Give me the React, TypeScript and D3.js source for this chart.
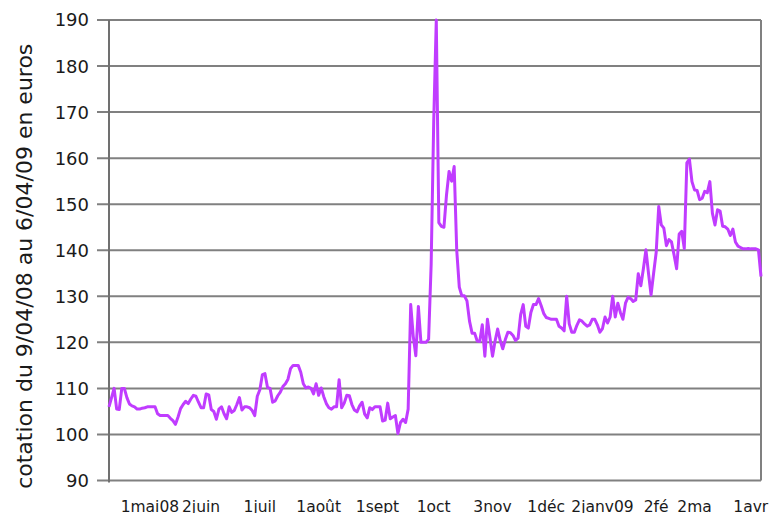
import React from "react";
import * as d3 from "d3";

const WIDTH = 770;
const HEIGHT = 513;
const MARGIN = { top: 20, right: 9, bottom: 32.5, left: 109 };

// cotation quotidienne (séances du 9/04/08 au 6/04/09), en euros
const prices = [
  106, 108, 110, 105.5, 105.4, 110, 110, 108, 106.6, 106.2,
  106, 105.5, 105.5, 105.7, 105.8, 106, 106, 106, 106, 104.5,
  104.1, 104.1, 104.1, 104.1, 103.5, 103, 102.2, 103.8, 105.6, 106.5,
  107.2, 106.7, 107.7, 108.5, 108.3, 107, 105.8, 105.8, 108.8, 108.6,
  105.4, 105, 103.3, 105.5, 106, 104.5, 103.4, 106, 104.8, 105.2,
  106.5, 108, 105.3, 106, 106, 105.8, 105.2, 104.1, 108.3, 109.7,
  113, 113.2, 110.2, 110, 107, 107.3, 108.4, 109.2, 110.4, 111,
  112, 114.3, 115, 115, 115, 113.5, 111, 110.1, 110.3, 110,
  108.8, 111, 108.5, 110.1, 108.2, 106.7, 105.8, 105.5, 106, 106,
  111.9, 105.8, 106.8, 108.5, 108.4, 106.5, 105.3, 104.9, 106.2, 107,
  104.4, 103.6, 105.8, 105.4, 106, 106, 106, 102.9, 103.1, 106.8,
  103.4, 103.8, 104.1, 100.2, 102.6, 103.3, 102.6, 105.5, 128.2, 121.3,
  117.1, 127.8, 120, 120, 120, 120.7, 137, 168, 190, 146,
  145.2, 145, 152, 157.1, 155, 158.2, 140, 132, 130.1, 130.1,
  129, 124.6, 122, 122, 120.3, 120.2, 123.8, 117, 125, 121,
  117, 120.3, 122.9, 120.4, 118.6, 120.6, 122.2, 122.1, 121.5, 120.4,
  120.9, 126, 128.2, 123.5, 123.1, 126.5, 128.2, 128.2, 129.5, 128,
  126.3, 125.4, 125.2, 125, 125, 125, 123.5, 123.1, 122.5, 130,
  124, 122.2, 122.2, 123.7, 124.9, 124.6, 124, 123.5, 123.8, 125,
  125, 123.8, 122.2, 123, 125.5, 124.2, 125.5, 130, 125.5, 128.5,
  126.5, 125, 128.5, 129.8, 129.5, 128.9, 129.2, 134.9, 132.3, 136,
  140.1, 135, 130.3, 135, 139.5, 149.5, 145.5, 144.8, 141, 142.3,
  141.8, 139, 136, 143.5, 144.1, 140.4, 159, 159.8, 154.9, 153.1,
  153, 151, 151.3, 152.8, 152.5, 154.9, 148, 145.5, 148.8, 148.5,
  145.2, 145.1, 144.6, 143.2, 144.6, 141.8, 140.9, 140.6, 140.3, 140.3,
  140.4, 140.3, 140.3, 140.3, 140.1, 134.3,
];

const monthLabels = ["1mai08", "2juin", "1juil", "1août", "1sept", "1oct", "3nov", "1déc", "2janv09", "2fé", "2ma", "1avr"];
const monthLabelIndex = [16, 36, 59, 82, 105, 127, 150, 171, 193, 214, 229, 251];

const yTicks = [90, 100, 110, 120, 130, 140, 150, 160, 170, 180, 190];
const yTitle = "cotation du 9/04/08 au 6/04/09 en euros";

const FONT = "DejaVu Sans, sans-serif";

export default function App() {
  const boundsWidth = WIDTH - MARGIN.left - MARGIN.right;
  const boundsHeight = HEIGHT - MARGIN.top - MARGIN.bottom;

  const xScale = d3
    .scaleLinear()
    .domain([0, prices.length - 1])
    .range([0, boundsWidth]);

  const yScale = d3.scaleLinear().domain([90, 190]).range([boundsHeight, 0]);

  const linePath = d3
    .line<number>()
    .x((_, i) => xScale(i))
    .y((d) => yScale(d))(prices);

  return (
    <svg
      width={WIDTH}
      height={HEIGHT}
      style={{ position: "absolute", left: 0, top: 0, background: "#fff" }}
    >
      <g transform={`translate(${MARGIN.left},${MARGIN.top})`}>
        {yTicks.map((t) => (
          <g key={t}>
            <line
              x1={-12}
              x2={boundsWidth}
              y1={yScale(t)}
              y2={yScale(t)}
              stroke="#808080"
              strokeWidth={2}
            />
            <text
              x={-20}
              y={yScale(t)}
              dy="0.36em"
              textAnchor="end"
              fontSize={18}
              fontFamily={FONT}
              fill="#1a1a1a"
            >
              {t}
            </text>
          </g>
        ))}
        <line x1={0} x2={0} y1={0} y2={boundsHeight + 2} stroke="#707070" strokeWidth={2} />
        <line
          x1={boundsWidth}
          x2={boundsWidth}
          y1={0}
          y2={boundsHeight}
          stroke="#808080"
          strokeWidth={2}
        />
        <path
          d={linePath ?? ""}
          fill="none"
          stroke="#c03cff"
          strokeWidth={3}
          strokeLinejoin="round"
        />
        {monthLabels.map((label, i) => (
          <text
            key={label}
            x={xScale(monthLabelIndex[i])}
            y={boundsHeight + 31.5}
            textAnchor="middle"
            fontSize={15.5}
            fontFamily={FONT}
            fill="#1a1a1a"
          >
            {label}
          </text>
        ))}
      </g>
      <text
        transform={`translate(31.5,${MARGIN.top + boundsHeight / 2 + 16}) rotate(-90)`}
        textAnchor="middle"
        fontSize={22}
        fontFamily={FONT}
        fill="#1a1a1a"
      >
        {yTitle}
      </text>
    </svg>
  );
}
